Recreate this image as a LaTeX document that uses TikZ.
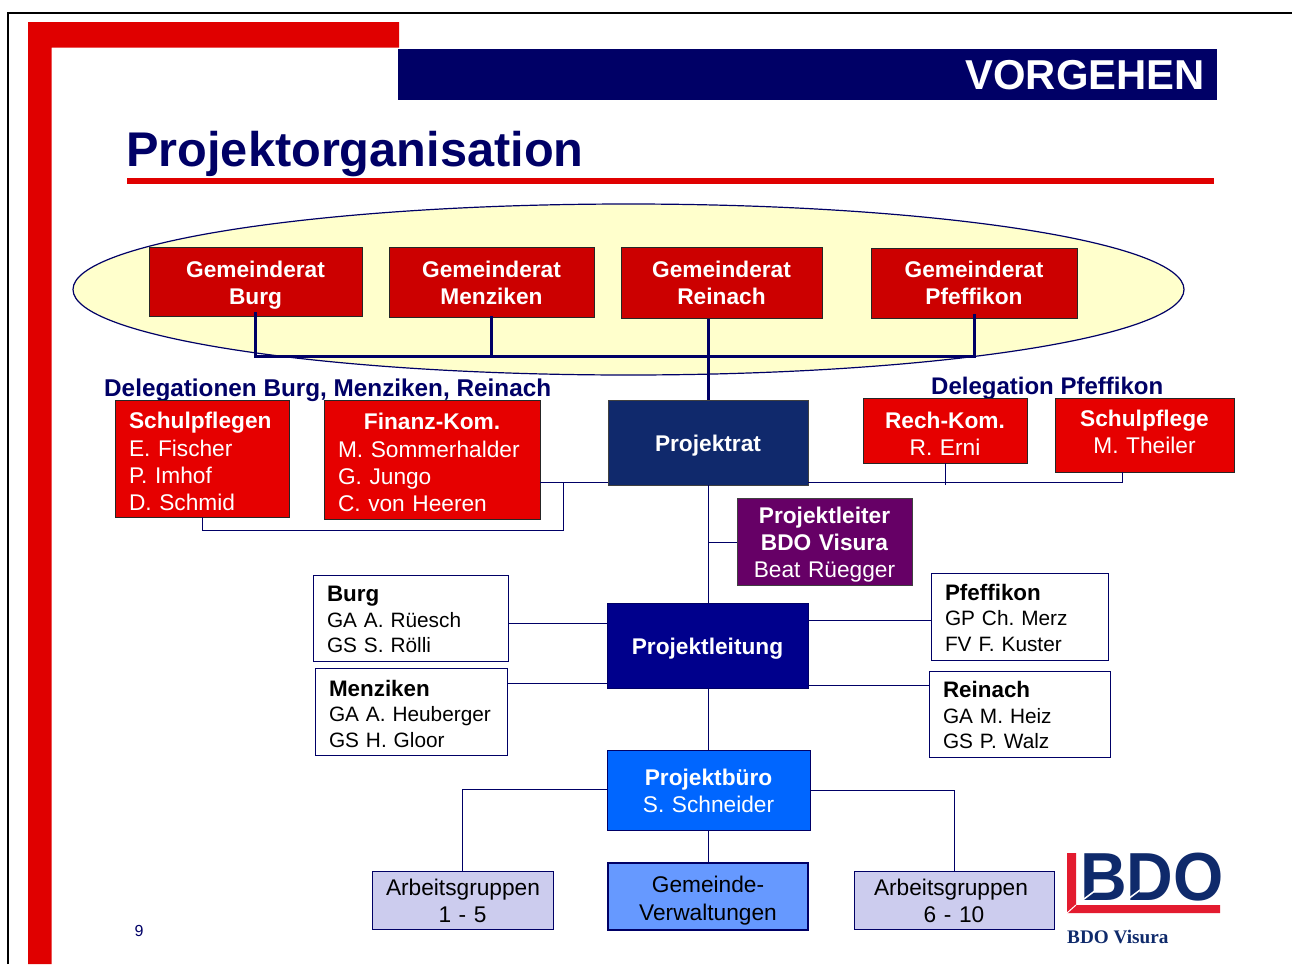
\documentclass[tikz,border=0pt]{standalone}
\usepackage{fontspec}
\setmainfont{Liberation Sans}
\newfontfamily\logoserif{Liberation Serif}
\usetikzlibrary{shapes.geometric}
\definecolor{navyline}{HTML}{000066}
\definecolor{slidered}{HTML}{E00000}
\definecolor{boxred}{HTML}{E60000}
\definecolor{darkred}{HTML}{CC0000}
\definecolor{ratblue}{HTML}{10296C}
\definecolor{leitung}{HTML}{00008C}
\definecolor{plum}{HTML}{660066}
\definecolor{buero}{HTML}{0066FF}
\definecolor{gvblue}{HTML}{6699FF}
\definecolor{lilac}{HTML}{CCCCEE}
\definecolor{cream}{HTML}{FFFFCC}
\definecolor{logoblue}{HTML}{0F2A6B}
\definecolor{logored}{HTML}{E31B2F}
\newcommand{\mainfs}{\fontsize{22.7}{27.2}\selectfont\frenchspacing}
\newcommand{\smallfs}{\fontsize{20.8}{25.6}\selectfont\frenchspacing}
\newcommand{\hd}[1]{{\fontsize{22.4}{25.6}\selectfont\bfseries #1}}
% move the text block down by #1 pt (taller first line)
\newcommand{\dn}[1]{\rule{0pt}{\dimexpr 16.5pt+2\dimexpr #1pt\relax\relax}}
% move the text block up by #1 pt (deeper last line)
\newcommand{\up}[1]{\rule[-\dimexpr 2\dimexpr #1pt\relax\relax]{0pt}{0pt}}
% \pbox{name}{x1}{y1}{x2}{y2}{style}{text}
\newcommand{\pbox}[7]{%
  \pgfmathsetmacro{\cxx}{(#2+#4)/2}\pgfmathsetmacro{\cyy}{(#3+#5)/2}%
  \pgfmathsetmacro{\wwd}{#4-#2}\pgfmathsetmacro{\hht}{#5-#3}%
  \pgfmathsetmacro{\twd}{#4-#2-28}%
  \node[minimum width=\wwd pt,minimum height=\hht pt,text width=\twd pt,#6] (#1) at (\cxx,\cyy) {#7};}
\tikzset{
  boxbase/.style={draw,line width=1pt,inner xsep=14pt,inner ysep=0pt,outer sep=0pt,align=center},
  redbox/.style={boxbase,fill=boxred,draw=black!85,text=white,font=\mainfs},
  topbox/.style={boxbase,fill=darkred,draw=black!85,text=white,font=\mainfs},
  whitebox/.style={boxbase,fill=white,draw=navyline,text=black,font=\smallfs,align=left},
  lilacbox/.style={boxbase,fill=lilac,draw=navyline,text=black,font=\mainfs},
  conn/.style={draw=navyline,line width=1pt},
  thickconn/.style={draw=navyline,line width=3pt},
  delegation/.style={text=navyline,font=\fontsize{24.3}{27}\selectfont\bfseries,inner sep=0pt,anchor=base west}
}
\begin{document}
\begin{tikzpicture}[x=1pt,y=-1pt]
\useasboundingbox (0,0) rectangle (1292,964);
\begin{scope}
\clip (0,0) rectangle (1292,964);
% frame
\draw[black,line width=2pt] (8,964) -- (8,12.5) -- (1292,12.5);
% red corner
\fill[slidered] (28,964) -- (28,22) -- (399,22) -- (399,47.5) -- (51.5,47.5) -- (51.5,964) -- cycle;
\fill[navyline] (398,49) rectangle (1217,100);
\node[text=white,font=\fontsize{41.8}{44}\selectfont\bfseries,inner sep=0pt,anchor=base east] (vorgehen) at (1205,89) {VORGEHEN};
\node[text=navyline,font=\fontsize{48.7}{52}\selectfont\bfseries,inner sep=0pt,anchor=base west] (titel) at (126,166) {Projektorganisation};
\fill[slidered] (127,178) rectangle (1214,184);
% ellipse
\node[ellipse,draw=navyline,fill=cream,line width=1.2pt,minimum width=1111pt,minimum height=171pt,inner sep=0pt] (oval) at (628.5,289.5) {};
% council boxes
\pbox{gb}{149}{247}{362}{316}{topbox}{\dn{4}\textbf{Gemeinderat}\\\textbf{Burg}}
\pbox{gm}{389}{247}{594}{317}{topbox}{\dn{1}\textbf{Gemeinderat}\\\textbf{Menziken}}
\pbox{gr}{621}{247}{822}{318}{topbox}{\textbf{Gemeinderat}\\\textbf{Reinach}}
\pbox{gp}{871}{248}{1077}{318}{topbox}{\textbf{Gemeinderat}\\\textbf{Pfeffikon}}
% delegations
\node[delegation] (dl1) at (104,396) {Delegationen Burg, Menziken, Reinach};
\node[delegation,font=\fontsize{24}{27}\selectfont\bfseries] (dl2) at (931,394) {Delegation Pfeffikon};
% connectors behind boxes
\coordinate (bus) at (708,356);
\draw[thickconn] ([yshift=4pt]gb.south) |- (bus) -| ([yshift=4pt]gp.south);
\draw[thickconn] ([yshift=1pt]gm.south) -- (gm.south |- bus);
\pbox{sp}{115}{400}{289}{517}{redbox,align=left}{\dn{3}\textbf{Schulpflegen}\\E. Fischer\\P. Imhof\\D. Schmid}
\pbox{fk}{324}{400}{540}{519}{redbox,align=left}{\dn{3}\hfill\textbf{Finanz-Kom.}\hfill\null\\M. Sommerhalder\\G. Jungo\\C. von Heeren}
\pbox{pr}{608}{400}{808}{485}{boxbase,fill=ratblue,draw=black!75,text=white,font=\mainfs}{\dn{3}\textbf{Projektrat}}
\pbox{rk}{863}{398}{1027}{463}{redbox}{\dn{3}\textbf{Rech-Kom.}\\R. Erni}
\pbox{sf}{1055}{398}{1234}{472}{redbox}{\textbf{Schulpflege}\\M. Theiler\up{3}}
\pbox{pl}{737}{498}{912}{585}{boxbase,fill=plum,draw=black!75,text=white,font=\mainfs}{\dn{3}\textbf{Projektleiter}\\\textbf{BDO Visura}\\Beat Rüegger}
\pbox{burg}{313}{575}{508}{661}{whitebox}{\dn{1}\hd{Burg}\\GA A. Rüesch\\GS S. Rölli}
\pbox{men}{315}{668}{507}{755}{whitebox}{\dn{2}\hd{Menziken}\\GA A. Heuberger\\GS H. Gloor}
\pbox{pf}{931}{573}{1108}{660}{whitebox}{\dn{1}\hd{Pfeffikon}\\GP Ch. Merz\\FV F. Kuster}
\pbox{rei}{929}{671}{1110}{757}{whitebox}{\dn{1}\hd{Reinach}\\GA M. Heiz\\GS P. Walz}
\pbox{lei}{607}{603}{808}{688}{boxbase,fill=leitung,draw=navyline,text=white,font=\mainfs}{\dn{3}\textbf{Projektleitung}}
\pbox{pb}{607}{750}{810}{830}{boxbase,fill=buero,draw=navyline,text=white,font=\mainfs}{\dn{1}\textbf{Projektbüro}\\S. Schneider}
\pbox{ag1}{372}{871}{553}{929}{lilacbox}{\dn{1}Arbeitsgruppen\\1 - 5}
\pbox{gv}{608}{863}{808}{930}{boxbase,fill=gvblue,draw=navyline,line width=1.2pt,text=black,font=\mainfs}{\dn{4}Gemeinde-\\Verwaltungen}
\pbox{ag2}{854}{871}{1054}{929}{lilacbox}{\dn{1}\hspace*{-6pt}Arbeitsgruppen\\6 - 10}
% connectors
\draw[thickconn] ([yshift=-1pt]gr.south -| pr.north) -- (pr.north);
\draw[conn] (fk.east |- 0,482.5) -- (pr.west |- 0,482.5);
\draw[conn] (sp.south -| 202,0) -- (202,530.5) -- (563.5,530.5) -- (563.5,482.5);
\draw[conn] (pr.east |- 0,482.5) -- (1122,482.5) -- (sf.south -| 1122,0);
\draw[conn] (rk.south -| 945.5,0) -- (945.5,485);
\draw[conn] (pr.south -| 708.5,0) -- (lei.north -| 708.5,0);
\draw[conn] (pl.west |- 0,542.5) -- (708.5,542.5);
\draw[conn] (burg.east |- 0,623.5) -- (lei.west |- 0,623.5);
\draw[conn] (men.east |- 0,683.5) -- (lei.west |- 0,683.5);
\draw[conn] (lei.east |- 0,620.5) -- (pf.west |- 0,620.5);
\draw[conn] (lei.east |- 0,685.5) -- (rei.west |- 0,685.5);
\draw[conn] (lei.south -| 708.5,0) -- (pb.north -| 708.5,0);
\draw[conn] (pb.south -| 708.5,0) -- (gv.north -| 708.5,0);
\draw[conn] (pb.west |- 0,789.5) -- (462.5,789.5) -- (ag1.north -| 462.5,0);
\draw[conn] (pb.east |- 0,790.5) -- (954.5,790.5) -- (ag2.north -| 954.5,0);
% page number
\node[font=\fontsize{16}{18}\selectfont,text=navyline,inner sep=0pt] (page) at (139,931) {9};
% logo
\fill[logored] (1067,853) -- (1076,853) -- (1076,905) -- (1220,905) -- (1220,913) -- (1067,913) -- cycle;
\draw[white,line width=1pt] (1067,913) -- (1076,905);
\node[text=logoblue,font=\fontsize{68}{70}\selectfont\bfseries,inner sep=0pt,anchor=base west,xscale=0.95] (logo) at (1080,900) {BDO};
\draw[white,line width=1.5pt] (1084,899) -- (1096,890);
\draw[white,line width=1.5pt] (1128,899) -- (1140,890);
\node[text=logoblue,font=\fontsize{19.2}{22}\selectfont\bfseries\logoserif,inner sep=0pt,anchor=base west] (visura) at (1067,943) {BDO Visura};
\end{scope}
\end{tikzpicture}
\end{document}
